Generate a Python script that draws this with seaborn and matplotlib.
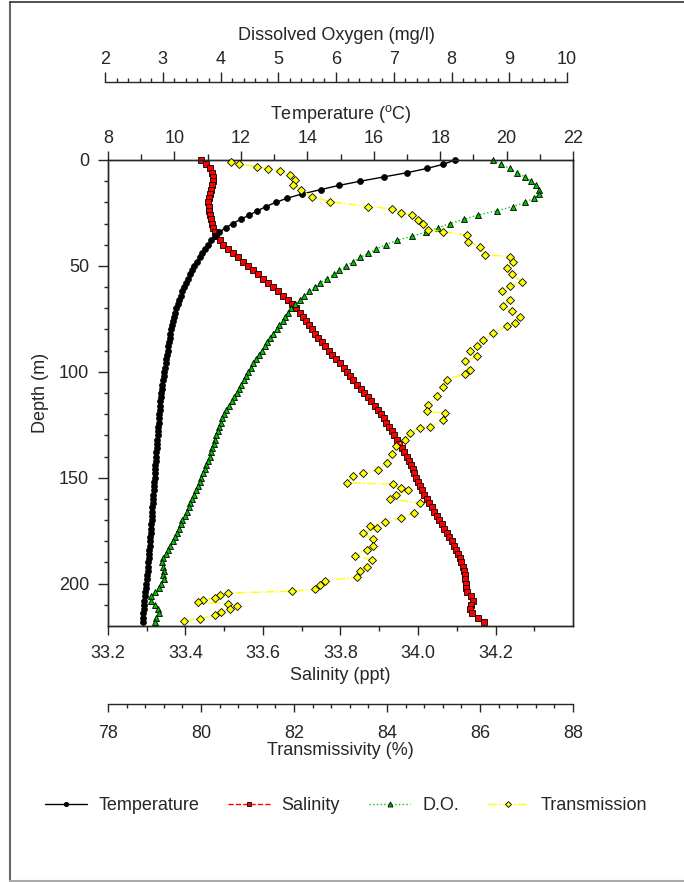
import numpy as np
import pandas as pd
import matplotlib
matplotlib.use('Agg')
import matplotlib.pyplot as plt
from matplotlib.lines import Line2D
from matplotlib.ticker import FixedLocator, MultipleLocator
import seaborn as sns

sns.set_style("ticks")
plt.rcParams['font.family'] = ['Liberation Sans', 'DejaVu Sans']
plt.rcParams['mathtext.default'] = 'regular'

# ---------------------------------------------------------------
# CTD profile (depth step 2 m)
# ---------------------------------------------------------------
depth_ctd = [0, 2, 4, 6, 8, 10, 12, 14, 16, 18, 20, 22, 24, 26, 28, 30, 32, 34, 36, 38,
             40, 42, 44, 46, 48, 50, 52, 54, 56, 58, 60, 62, 64, 66, 68, 70, 72, 74, 76, 78,
             80, 82, 84, 86, 88, 90, 92, 94, 96, 98, 100, 102, 104, 106, 108, 110, 112, 114, 116, 118,
             120, 122, 124, 126, 128, 130, 132, 134, 136, 138, 140, 142, 144, 146, 148, 150, 152, 154, 156, 158,
             160, 162, 164, 166, 168, 170, 172, 174, 176, 178, 180, 182, 184, 186, 188, 190, 192, 194, 196, 198,
             200, 202, 204, 206, 208, 210, 212, 214, 216, 218]

temperature = [18.45, 18.1, 17.6, 17.0, 16.3, 15.6, 14.95, 14.4, 13.85, 13.4,
               13.05, 12.75, 12.5, 12.25, 12.0, 11.75, 11.55, 11.35, 11.22, 11.1,
               11.0, 10.92, 10.84, 10.76, 10.68, 10.6, 10.53, 10.47, 10.41, 10.35,
               10.29, 10.24, 10.19, 10.14, 10.1, 10.06, 10.02, 9.99, 9.96, 9.93,
               9.9, 9.88, 9.86, 9.84, 9.82, 9.8, 9.78, 9.76, 9.74, 9.72,
               9.7, 9.68, 9.66, 9.64, 9.62, 9.6, 9.59, 9.58, 9.57, 9.56,
               9.55, 9.54, 9.53, 9.52, 9.51, 9.5, 9.49, 9.48, 9.47, 9.46,
               9.45, 9.44, 9.43, 9.42, 9.41, 9.4, 9.39, 9.38, 9.37, 9.36,
               9.35, 9.34, 9.33, 9.32, 9.31, 9.31, 9.3, 9.29, 9.28, 9.27,
               9.26, 9.25, 9.24, 9.23, 9.22, 9.21, 9.2, 9.19, 9.18, 9.17,
               9.15, 9.13, 9.11, 9.1, 9.09, 9.08, 9.07, 9.06, 9.05, 9.04]

salinity = [33.440, 33.452, 33.462, 33.468, 33.470, 33.470, 33.468, 33.465, 33.462, 33.460,
            33.459, 33.460, 33.461, 33.463, 33.466, 33.469, 33.472, 33.476, 33.480, 33.488,
            33.498, 33.510, 33.523, 33.536, 33.549, 33.562, 33.574, 33.587, 33.600, 33.613,
            33.626, 33.639, 33.652, 33.664, 33.676, 33.686, 33.695, 33.703, 33.711, 33.719,
            33.727, 33.735, 33.742, 33.751, 33.760, 33.770, 33.779, 33.789, 33.799, 33.808,
            33.817, 33.825, 33.833, 33.842, 33.852, 33.861, 33.870, 33.879, 33.888, 33.896,
            33.904, 33.911, 33.918, 33.925, 33.932, 33.939, 33.945, 33.951, 33.958, 33.965,
            33.971, 33.976, 33.981, 33.986, 33.990, 33.995, 34.000, 34.005, 34.010, 34.016,
            34.022, 34.028, 34.035, 34.041, 34.048, 34.055, 34.062, 34.068, 34.075, 34.081,
            34.087, 34.093, 34.099, 34.104, 34.108, 34.112, 34.116, 34.119, 34.121, 34.122,
            34.123, 34.125, 34.127, 34.138, 34.143, 34.138, 34.134, 34.140, 34.155, 34.170]

dissolved_oxygen = [8.72, 8.85, 9.01, 9.14, 9.27, 9.38, 9.47, 9.52, 9.51, 9.43,
                    9.27, 9.06, 8.78, 8.46, 8.21, 7.98, 7.76, 7.55, 7.32, 7.05,
                    6.86, 6.70, 6.56, 6.42, 6.30, 6.18, 6.06, 5.96, 5.84, 5.72,
                    5.63, 5.54, 5.45, 5.37, 5.29, 5.22, 5.17, 5.12, 5.08, 5.02,
                    4.97, 4.91, 4.86, 4.81, 4.77, 4.72, 4.67, 4.62, 4.57, 4.53,
                    4.48, 4.44, 4.40, 4.36, 4.32, 4.28, 4.24, 4.20, 4.15, 4.10,
                    4.06, 4.03, 4.00, 3.98, 3.95, 3.92, 3.90, 3.88, 3.86, 3.84,
                    3.81, 3.78, 3.75, 3.73, 3.70, 3.67, 3.64, 3.61, 3.57, 3.54,
                    3.51, 3.48, 3.45, 3.42, 3.38, 3.34, 3.31, 3.28, 3.24, 3.21,
                    3.17, 3.13, 3.09, 3.05, 3.00, 2.98, 3.00, 3.02, 3.01, 3.02,
                    2.97, 2.93, 2.86, 2.80, 2.79, 2.86, 2.92, 2.93, 2.89, 2.87]

# transmissometer samples (irregular depths)
depth_trans = [1.1, 1.9, 3.1, 4.2, 5.0, 7.0, 9.4, 11.8, 14.2, 17.3,
               19.6, 22.0, 23.0, 25.0, 26.0, 28.3, 30.2, 33.0, 33.8, 35.4,
               38.5, 40.9, 44.8, 45.6, 48.0, 51.0, 54.0, 57.4, 59.7, 62.0,
               66.0, 69.0, 71.5, 74.0, 77.0, 78.5, 81.7, 85.0, 88.0, 90.4,
               92.7, 95.0, 99.0, 101.0, 103.7, 107.0, 111.6, 115.5, 118.7, 119.5,
               122.6, 126.0, 126.5, 129.0, 132.0, 135.0, 139.0, 143.0, 146.5, 148.0,
               149.0, 152.5, 153.0, 155.0, 155.7, 158.0, 160.0, 162.0, 166.6, 169.0,
               171.0, 172.6, 173.7, 176.0, 179.0, 182.0, 184.0, 187.0, 188.7, 192.0,
               194.0, 197.0, 198.6, 200.5, 202.5, 203.6, 204.4, 205.6, 206.8, 207.5,
               208.8, 209.6, 210.7, 212.0, 213.5, 215.0, 216.6, 217.5]

transmission = [80.64, 80.82, 81.20, 81.45, 81.70, 81.91, 82.02, 81.98, 82.16, 82.38,
                82.77, 83.60, 84.10, 84.31, 84.53, 84.67, 84.78, 84.89, 85.21, 85.71,
                85.75, 86.00, 86.11, 86.65, 86.72, 86.57, 86.68, 86.90, 86.65, 86.47,
                86.65, 86.50, 86.68, 86.86, 86.75, 86.57, 86.29, 86.07, 85.93, 85.78,
                85.93, 85.68, 85.78, 85.68, 85.28, 85.21, 85.07, 84.89, 84.85, 85.25,
                85.21, 84.92, 84.71, 84.49, 84.39, 84.20, 84.10, 83.99, 83.81, 83.49,
                83.27, 83.13, 84.13, 84.31, 84.46, 84.20, 84.06, 84.71, 84.57, 84.31,
                83.96, 83.63, 83.78, 83.49, 83.70, 83.70, 83.56, 83.31, 83.67, 83.56,
                83.42, 83.35, 82.67, 82.56, 82.45, 81.95, 80.59, 80.41, 80.30, 80.05,
                79.94, 80.59, 80.77, 80.62, 80.44, 80.30, 79.98, 79.64]

ctd = pd.DataFrame({'depth': depth_ctd, 'temp': temperature,
                    'sal': salinity, 'do': dissolved_oxygen})
trans = pd.DataFrame({'depth': depth_trans, 'trans': transmission})

# ---------------------------------------------------------------
# layout (pixel geometry of the original, 684 x 882)
# ---------------------------------------------------------------
W, H = 684, 882
FS = 13
fig = plt.figure(figsize=(W / 100, H / 100), dpi=100)
bottom, height = (H - 626) / H, 466 / H

ax = fig.add_axes([108 / W, bottom, 465 / W, height])          # salinity / depth
ax_do = fig.add_axes([105 / W, bottom, 462 / W, height], sharey=ax)
ax_t = ax.twiny()                                              # temperature
ax_tr = ax.twiny()                                             # transmissivity

common = dict(sort=False, estimator=None, legend=False)

sns.lineplot(data=ctd, x='sal', y='depth', ax=ax, color='red', linestyle='--',
             linewidth=1, marker='s', markersize=4.5, markerfacecolor='red',
             markeredgecolor='black', markeredgewidth=0.6, label='Salinity', **common)
sns.lineplot(data=ctd, x='temp', y='depth', ax=ax_t, color='black', linestyle='-',
             linewidth=1, marker='o', markersize=4.3, markerfacecolor='black',
             markeredgecolor='black', markeredgewidth=0.5, label='Temperature', **common)
sns.lineplot(data=ctd, x='do', y='depth', ax=ax_do, color='#00cc00', linestyle=':',
             linewidth=1, marker='^', markersize=4.8, markerfacecolor='#00c000',
             markeredgecolor='black', markeredgewidth=0.6, label='D.O.', **common)
sns.lineplot(data=trans, x='trans', y='depth', ax=ax_tr, color='#ffff00', linestyle='-.',
             linewidth=1, marker='D', markersize=4, markerfacecolor='#ffff00',
             markeredgecolor='black', markeredgewidth=0.6, label='Transmission', **common)

# depth axis
ax.set_ylim(220, 0)
ax.yaxis.set_major_locator(FixedLocator([0, 50, 100, 150, 200]))
ax.yaxis.set_minor_locator(FixedLocator(list(range(10, 220, 10))))
ax.set_ylabel('Depth (m)', fontsize=FS, labelpad=7)
ax.tick_params(axis='y', which='major', length=7, width=1, pad=6.5, labelsize=FS)
ax.tick_params(axis='y', which='minor', length=3, width=1)

# salinity (bottom)
ax.set_xlim(33.2, 34.4)
ax.xaxis.set_major_locator(FixedLocator([33.2, 33.4, 33.6, 33.8, 34.0, 34.2]))
ax.xaxis.set_minor_locator(FixedLocator([33.3, 33.5, 33.7, 33.9, 34.1, 34.3]))
ax.set_xticklabels(['33.2', '33.4', '33.6', '33.8', '34.0', '34.2'])
ax.set_xlabel('Salinity (ppt)', fontsize=FS, labelpad=3.5)
ax.tick_params(axis='x', which='major', length=6.3, width=1, pad=7.5, labelsize=FS)
ax.tick_params(axis='x', which='minor', length=3.5, width=1)
ax.set_facecolor('none')
for s in ax.spines.values():
    s.set_linewidth(1)

# temperature (top, on the frame)
ax_t.set_xlim(8, 22)
ax_t.xaxis.set_major_locator(MultipleLocator(2))
ax_t.xaxis.set_minor_locator(MultipleLocator(1))
ax_t.set_xlabel('Temperature ($^{o}$C)', fontsize=FS, labelpad=8)
ax_t.tick_params(axis='x', which='major', length=6.5, width=1, pad=3, labelsize=FS)
ax_t.tick_params(axis='x', which='minor', length=4, width=1)
for s in ax_t.spines.values():
    s.set_linewidth(1)

# dissolved oxygen (separate top scale)
ax_do.set_xlim(2, 10)
ax_do.set_facecolor('none')
ax_do.xaxis.set_ticks_position('top')
ax_do.xaxis.set_label_position('top')
ax_do.xaxis.set_major_locator(MultipleLocator(1))
ax_do.xaxis.set_minor_locator(MultipleLocator(0.2))
ax_do.set_xlabel('Dissolved Oxygen (mg/l)', fontsize=FS, labelpad=8)
ax_do.tick_params(axis='x', which='major', length=7, width=1, pad=2.5, labelsize=FS)
ax_do.tick_params(axis='x', which='minor', length=3, width=1)
ax_do.spines['top'].set_position(('outward', 56.4))
ax_do.spines['top'].set_linewidth(1)
for side in ['left', 'right', 'bottom']:
    ax_do.spines[side].set_visible(False)
ax_do.tick_params(axis='y', which='both', left=False, labelleft=False)
ax_do.set_ylabel('')

# transmissivity (separate bottom scale)
ax_tr.set_xlim(78, 88)
ax_tr.xaxis.set_ticks_position('bottom')
ax_tr.xaxis.set_label_position('bottom')
ax_tr.xaxis.set_major_locator(MultipleLocator(2))
ax_tr.xaxis.set_minor_locator(MultipleLocator(0.4))
ax_tr.set_xlabel('Transmissivity (%)', fontsize=FS, labelpad=0)
ax_tr.tick_params(axis='x', which='major', length=6, width=1, pad=8.5, labelsize=FS)
ax_tr.tick_params(axis='x', which='minor', length=3, width=1)
ax_tr.spines['bottom'].set_position(('outward', 56.5))
ax_tr.spines['bottom'].set_linewidth(1)
for side in ['left', 'right', 'top']:
    ax_tr.spines[side].set_visible(False)

for a in (ax, ax_t, ax_do, ax_tr):
    for line in a.get_lines():
        line.set_clip_on(False)

# legend along the bottom
handles, labels = [], []
for a in (ax_t, ax, ax_do, ax_tr):
    h, l = a.get_legend_handles_labels()
    handles += h
    labels += l
leg = fig.legend(handles, labels, loc='center left', bbox_to_anchor=(29 / W, 1 - 806 / H),
                 ncol=4, frameon=False, fontsize=FS, handlelength=2.3, handletextpad=0.65,
                 columnspacing=1.6, numpoints=1, markerscale=0.75)

# page frame
fig.add_artist(Line2D([10 / W, 10 / W], [1 / H, 1 - 1.5 / H], color='#666666', lw=1.5))
fig.add_artist(Line2D([10 / W, 1], [1 - 1.5 / H, 1 - 1.5 / H], color='#333333', lw=1.2))
fig.add_artist(Line2D([10 / W, 1], [1 / H, 1 / H], color='#aaaaaa', lw=1.5))

fig.savefig('out.png', dpi=100)
